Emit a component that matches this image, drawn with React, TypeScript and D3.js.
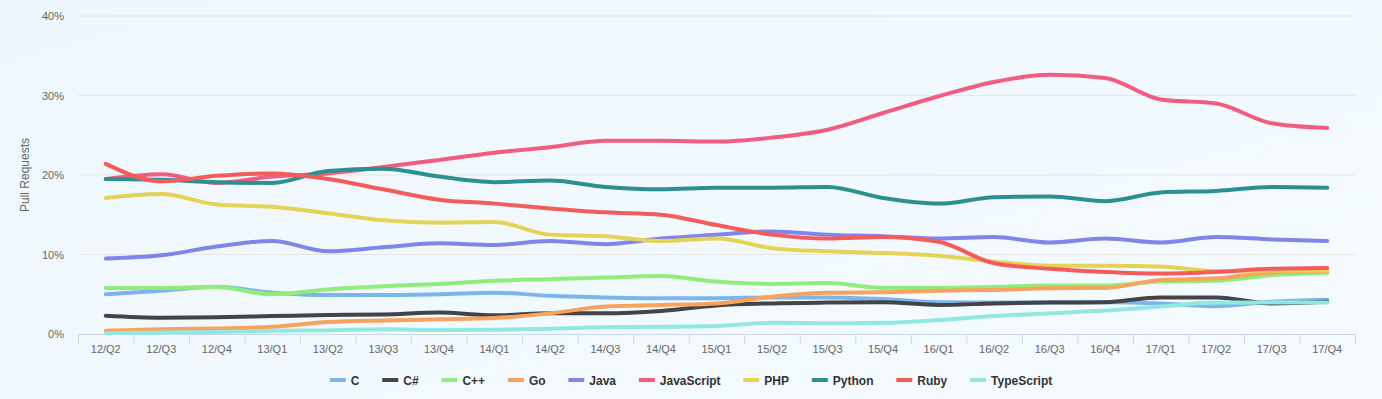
import React from 'react';
import * as d3 from 'd3';

const categories = [
  '12/Q2', '12/Q3', '12/Q4', '13/Q1', '13/Q2', '13/Q3', '13/Q4', '14/Q1', '14/Q2', '14/Q3', '14/Q4', '15/Q1',
  '15/Q2', '15/Q3', '15/Q4', '16/Q1', '16/Q2', '16/Q3', '16/Q4', '17/Q1', '17/Q2', '17/Q3', '17/Q4',
];

const cValues = [5.0, 5.45, 5.95, 5.2, 4.9, 4.9, 5.0, 5.2, 4.8, 4.6, 4.5, 4.5, 4.6, 4.6, 4.4, 4.0, 3.95, 4.0, 4.0, 3.85, 3.5, 4.05, 4.3];
const csharpValues = [2.3, 2.05, 2.1, 2.25, 2.4, 2.45, 2.7, 2.35, 2.6, 2.6, 2.9, 3.6, 3.85, 3.95, 4.0, 3.65, 3.85, 3.95, 4.0, 4.6, 4.6, 3.85, 4.05];
const cppValues = [5.8, 5.8, 5.9, 5.0, 5.6, 6.0, 6.3, 6.7, 6.9, 7.1, 7.3, 6.6, 6.3, 6.4, 5.8, 5.8, 5.9, 6.1, 6.1, 6.6, 6.7, 7.4, 7.7];
const goValues = [0.4, 0.6, 0.7, 0.9, 1.5, 1.7, 1.85, 2.0, 2.6, 3.45, 3.65, 3.85, 4.7, 5.2, 5.25, 5.45, 5.55, 5.75, 5.8, 6.8, 7.0, 7.75, 7.9];
const javaValues = [9.5, 9.9, 11.0, 11.7, 10.4, 10.9, 11.4, 11.2, 11.7, 11.3, 12.0, 12.5, 12.9, 12.5, 12.3, 12.0, 12.2, 11.5, 12.0, 11.5, 12.2, 11.9, 11.7];
const javascriptValues = [19.5, 20.1, 19.0, 19.8, 20.2, 21.0, 21.9, 22.8, 23.5, 24.3, 24.3, 24.2, 24.7, 25.7, 27.8, 29.9, 31.7, 32.6, 32.2, 29.5, 29.0, 26.5, 25.9];
const phpValues = [17.1, 17.6, 16.3, 16.0, 15.2, 14.3, 14.0, 14.1, 12.5, 12.3, 11.7, 12.0, 10.8, 10.4, 10.2, 9.85, 9.1, 8.6, 8.6, 8.5, 7.9, 8.0, 8.0];
const pythonValues = [19.5, 19.4, 19.1, 19.0, 20.5, 20.8, 19.8, 19.1, 19.3, 18.5, 18.2, 18.4, 18.4, 18.5, 17.1, 16.4, 17.2, 17.3, 16.7, 17.8, 18.0, 18.5, 18.4];
const rubyValues = [21.4, 19.2, 19.9, 20.2, 19.5, 18.2, 16.9, 16.4, 15.8, 15.3, 15.0, 13.7, 12.5, 12.0, 12.2, 11.6, 8.9, 8.2, 7.8, 7.6, 7.8, 8.2, 8.3];
const typescriptValues = [0.1, 0.2, 0.25, 0.4, 0.45, 0.6, 0.5, 0.55, 0.65, 0.85, 0.9, 1.0, 1.4, 1.35, 1.4, 1.75, 2.25, 2.6, 2.95, 3.45, 3.95, 3.95, 3.95];

const seriesNames = ['C', 'C#', 'C++', 'Go', 'Java', 'JavaScript', 'PHP', 'Python', 'Ruby', 'TypeScript'];
const seriesColors = ['#7cb5ec', '#434348', '#90ed7d', '#f7a35c', '#8085e9', '#f15c80', '#e4d354', '#2b908f', '#f45b5b', '#91e8e1'];
const seriesValues = [cValues, csharpValues, cppValues, goValues, javaValues, javascriptValues, phpValues, pythonValues, rubyValues, typescriptValues];

const yTicks = [0, 10, 20, 30, 40];

const width = 1382;
const height = 399;
const margin = { top: 16, right: 27, bottom: 65, left: 78 };
const font = '"Liberation Sans", Arial, Helvetica, sans-serif';

const measure = (text: string, f: string) => {
  const ctx = document.createElement('canvas').getContext('2d');
  if (!ctx) return text.length * 7;
  ctx.font = f;
  return ctx.measureText(text).width;
};

export default function App() {
  const innerBottom = height - margin.bottom;
  const innerRight = width - margin.right;

  const xScale = d3.scaleBand().domain(categories).range([margin.left, innerRight]).padding(0);
  const bw = xScale.bandwidth();
  const xCenter = (c: string) => (xScale(c) as number) + bw / 2;

  const yScale = d3.scaleLinear().domain([0, 40]).range([innerBottom, margin.top]);

  const lineGen = d3
    .line<number>()
    .x((_, i) => xCenter(categories[i]))
    .y(d => yScale(d))
    .curve(d3.curveMonotoneX);

  // legend layout: symbol 16, gap 5, item distance ~23
  const legendFont = `bold 12px ${font}`;
  const items = seriesNames.map(n => ({ name: n, w: 16 + 5 + measure(n, legendFont) }));
  const itemGap = 22.8;
  const total = d3.sum(items, d => d.w) + itemGap * (items.length - 1);
  let cursor = (width - total) / 2;
  const legendItems = items.map((it, i) => {
    const x = cursor;
    cursor += it.w + itemGap;
    return { ...it, x, color: seriesColors[i] };
  });
  const legendY = 380;

  const tickXs = [...categories.map(c => xScale(c) as number), innerRight];

  return (
    <svg
      width={width}
      height={height}
      style={{ position: 'absolute', left: 0, top: 0, fontFamily: font }}
    >
      <defs>
        <linearGradient id="bg" x1="0" y1="0" x2="1" y2="1">
          <stop offset="0%" stopColor="#edf7fd" />
          <stop offset="100%" stopColor="#f6fbff" />
        </linearGradient>
      </defs>
      <rect x={0} y={0} width={width} height={height} fill="url(#bg)" />

      {/* grid + y labels */}
      {yTicks.map(t => (
        <g key={t}>
          {t > 0 && (
            <line x1={margin.left} x2={innerRight} y1={yScale(t)} y2={yScale(t)} stroke="#e6e6e6" strokeWidth={1} />
          )}
          <text x={64} y={yScale(t) + 4} textAnchor="end" fontSize={11} fill="#666666">
            {t}%
          </text>
        </g>
      ))}

      <text
        transform={`translate(29,${(margin.top + innerBottom) / 2}) rotate(-90)`}
        textAnchor="middle"
        fontSize={12}
        fill="#666666"
      >
        Pull Requests
      </text>

      {/* x axis */}
      <line x1={margin.left} x2={innerRight} y1={innerBottom + 0.5} y2={innerBottom + 0.5} stroke="#ccd6eb" />
      {tickXs.map((x, i) => (
        <line key={i} x1={x + 0.5} x2={x + 0.5} y1={innerBottom} y2={innerBottom + 10} stroke="#ccd6eb" />
      ))}
      {categories.map(c => (
        <text key={c} x={xCenter(c)} y={innerBottom + 19} textAnchor="middle" fontSize={11} fill="#666666">
          {c}
        </text>
      ))}

      {/* series */}
      {seriesValues.map((vals, i) => (
        <path
          key={seriesNames[i]}
          d={lineGen(vals) || ''}
          fill="none"
          stroke={seriesColors[i]}
          strokeWidth={4}
          strokeLinecap="round"
          strokeLinejoin="round"
        />
      ))}

      {/* legend */}
      {legendItems.map(it => (
        <g key={it.name} transform={`translate(${it.x},${legendY})`}>
          <rect x={0} y={-2} width={16} height={4} fill={it.color} />
          <text x={21} y={4.5} fontSize={12} fontWeight="bold" fill="#333333">
            {it.name}
          </text>
        </g>
      ))}
    </svg>
  );
}
